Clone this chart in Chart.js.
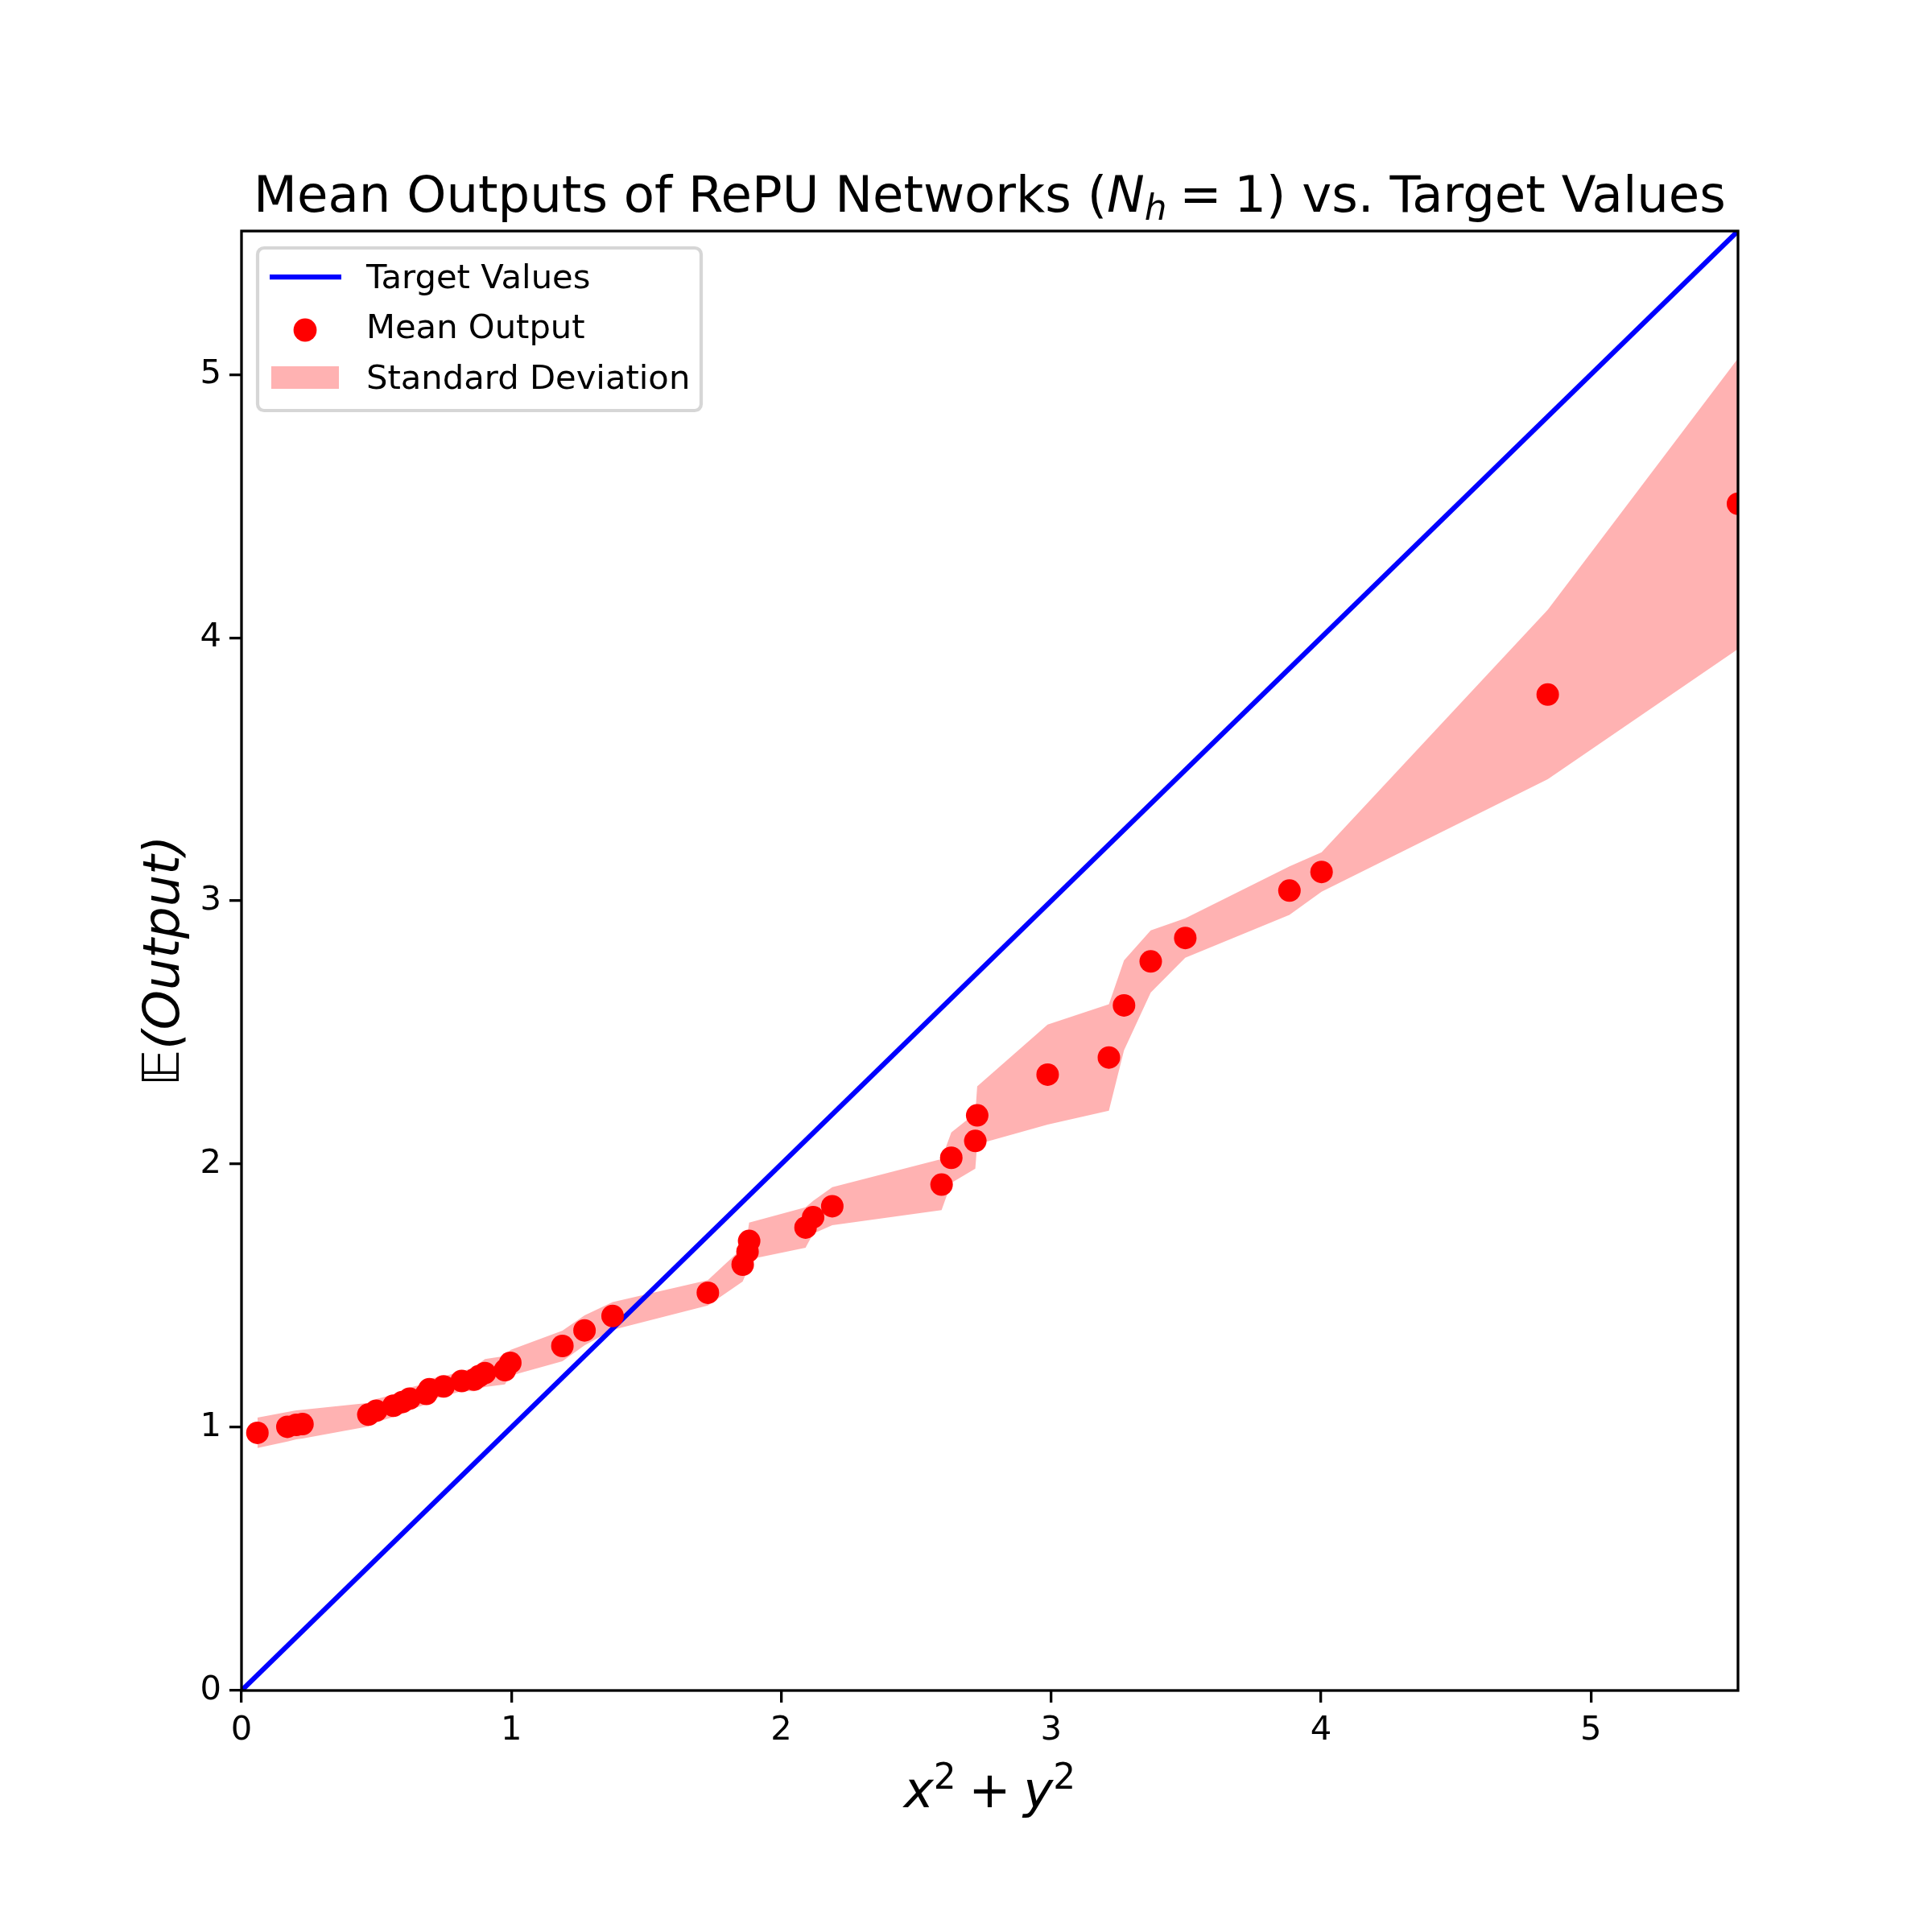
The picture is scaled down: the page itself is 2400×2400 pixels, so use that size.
<!DOCTYPE html>
<html>
<head>
<meta charset="utf-8">
<script src="https://cdn.jsdelivr.net/npm/chart.js@4/dist/chart.umd.min.js"></script>
<style>
  html, body { margin: 0; padding: 0; background: #fff; }
</style>
</head>
<body>
<canvas id="chart" width="2400" height="2400"></canvas>
<script>
// x^2 + y^2 for each sample (sorted)
const xVals = [0.059, 0.170, 0.203, 0.226, 0.470, 0.499, 0.563, 0.596, 0.623, 0.685,
  0.696, 0.749, 0.816, 0.862, 0.880, 0.902, 0.976, 0.996, 1.189, 1.271,
  1.375, 1.728, 1.857, 1.875, 1.881, 2.090, 2.118, 2.189, 2.594, 2.630,
  2.719, 2.726, 2.987, 3.214, 3.270, 3.369, 3.497, 3.883, 4.002, 4.840, 5.545];

// mean network output at each x
const meanOutput = [0.979, 1.002, 1.009, 1.012, 1.048, 1.063, 1.082, 1.096, 1.109, 1.127,
  1.145, 1.155, 1.176, 1.181, 1.194, 1.206, 1.217, 1.245, 1.309, 1.368,
  1.423, 1.511, 1.618, 1.667, 1.708, 1.759, 1.798, 1.840, 1.922, 2.024,
  2.088, 2.185, 2.340, 2.405, 2.603, 2.770, 2.859, 3.039, 3.110, 3.784, 4.509];

// standard deviation at each x
const stdDev = [0.058, 0.056, 0.055, 0.055, 0.045, 0.044, 0.043, 0.043, 0.042, 0.040,
  0.040, 0.038, 0.038, 0.044, 0.048, 0.053, 0.054, 0.049, 0.058, 0.057,
  0.053, 0.048, 0.064, 0.070, 0.070, 0.077, 0.062, 0.072, 0.097, 0.096,
  0.105, 0.110, 0.190, 0.202, 0.171, 0.118, 0.075, 0.092, 0.075, 0.322, 0.552];

// target line y = x
const targetLine = [0, 5.545];

const xTicks = [0, 1, 2, 3, 4, 5];
const yTicks = [0, 1, 2, 3, 4, 5];

const axisMax = Math.max(...xVals);

const FONT = "DejaVu Sans";
const TICK_SIZE = 41.7;
const LABEL_SIZE = 62.5;

Chart.defaults.font.family = FONT;
Chart.defaults.color = "#000";

// Draw a row of text pieces (normal / italic / sub / sup), centred on x
function drawRuns(ctx, runs, x, y) {
  let total = 0;
  runs.forEach(r => {
    ctx.font = `${r.italic ? "italic " : ""}${r.size}px "${FONT}"`;
    r.w = ctx.measureText(r.text).width;
    total += r.w;
  });
  let cx = x - total / 2;
  ctx.textAlign = "left";
  ctx.textBaseline = "alphabetic";
  runs.forEach(r => {
    ctx.font = `${r.italic ? "italic " : ""}${r.size}px "${FONT}"`;
    ctx.fillText(r.text, cx, y + (r.dy || 0));
    cx += r.w;
  });
}

const decorPlugin = {
  id: "decor",
  afterDraw(chart) {
    const ctx = chart.ctx;
    const a = chart.chartArea;
    const cx = (a.left + a.right) / 2;
    ctx.save();
    ctx.fillStyle = "#000";

    // frame
    ctx.strokeStyle = "#000";
    ctx.lineWidth = 3.3;
    ctx.strokeRect(a.left, a.top, a.right - a.left, a.bottom - a.top);

    // title
    const small = LABEL_SIZE * 0.7;
    drawRuns(ctx, [
      { text: "Mean Outputs of RePU Networks (", size: LABEL_SIZE },
      { text: "N", size: LABEL_SIZE, italic: true },
      { text: "h", size: small, italic: true, dy: 10 },
      { text: "\u2005=\u20051", size: LABEL_SIZE },
      { text: ") vs. Target Values", size: LABEL_SIZE }
    ], cx, 263);

    // x label
    drawRuns(ctx, [
      { text: "x", size: LABEL_SIZE, italic: true },
      { text: "2", size: small, dy: -23 },
      { text: "\u2005+\u2005", size: LABEL_SIZE },
      { text: "y", size: LABEL_SIZE, italic: true },
      { text: "2", size: small, dy: -23 }
    ], cx, 2245);

    // y label
    ctx.translate(222, (a.top + a.bottom) / 2);
    ctx.rotate(-Math.PI / 2);
    ctx.font = `italic ${LABEL_SIZE}px "${FONT}"`;
    ctx.textAlign = "center";
    ctx.textBaseline = "alphabetic";
    ctx.fillText("\u{1D53C}(Output)", 0, 0);
    ctx.restore();

    // legend
    ctx.save();
    const lx = 320, ly = 308, lw = 551, lh = 202;
    ctx.beginPath();
    ctx.roundRect(lx, ly, lw, lh, 8);
    ctx.fillStyle = "rgba(255,255,255,0.8)";
    ctx.fill();
    ctx.strokeStyle = "rgba(204,204,204,0.8)";
    ctx.lineWidth = 4.2;
    ctx.stroke();

    ctx.strokeStyle = "#0000ff";
    ctx.lineWidth = 6.25;
    ctx.beginPath();
    ctx.moveTo(335, 344);
    ctx.lineTo(424, 344);
    ctx.stroke();

    ctx.fillStyle = "#ff0000";
    ctx.beginPath();
    ctx.arc(379, 410, 14.4, 0, Math.PI * 2);
    ctx.fill();

    ctx.fillStyle = "rgba(255,0,0,0.3)";
    ctx.fillRect(337, 455, 84, 28);

    ctx.fillStyle = "#000";
    ctx.font = `${TICK_SIZE}px "${FONT}"`;
    ctx.textAlign = "left";
    ctx.textBaseline = "alphabetic";
    ctx.fillText("Target Values", 455, 358);
    ctx.fillText("Mean Output", 455, 420);
    ctx.fillText("Standard Deviation", 455, 483);
    ctx.restore();
  }
};

const axisCommon = {
  type: "linear",
  min: 0,
  max: axisMax,
  grid: {
    display: true,
    drawOnChartArea: false,
    drawTicks: true,
    tickLength: 15,
    lineWidth: 3.3,
    color: "#000"
  },
  border: { display: false },
  ticks: {
    font: { size: TICK_SIZE, family: FONT },
    color: "#000",
    padding: 10,
    autoSkip: false,
    maxRotation: 0
  }
};

new Chart(document.getElementById("chart"), {
  data: {
    datasets: [
      {
        type: "scatter",
        label: "Mean Output",
        data: xVals.map((x, i) => ({ x: x, y: meanOutput[i] })),
        backgroundColor: "#ff0000",
        borderWidth: 0,
        pointRadius: 14,
        clip: 0,
        order: 0
      },
      {
        type: "line",
        label: "Target Values",
        data: targetLine.map(v => ({ x: v, y: v })),
        borderColor: "#0000ff",
        borderWidth: 6.25,
        pointRadius: 0,
        fill: false,
        clip: 0,
        order: 1
      },
      {
        type: "line",
        label: "Standard Deviation",
        data: xVals.map((x, i) => ({ x: x, y: meanOutput[i] + stdDev[i] })),
        borderColor: "rgba(0,0,0,0)",
        borderWidth: 0,
        pointRadius: 0,
        backgroundColor: "rgba(255,0,0,0.3)",
        fill: "+1",
        clip: 0,
        order: 2
      },
      {
        type: "line",
        label: "lower",
        data: xVals.map((x, i) => ({ x: x, y: meanOutput[i] - stdDev[i] })),
        borderColor: "rgba(0,0,0,0)",
        borderWidth: 0,
        pointRadius: 0,
        fill: false,
        clip: 0,
        order: 3
      }
    ]
  },
  options: {
    responsive: false,
    animation: false,
    devicePixelRatio: 1,
    layout: { padding: { left: 0, right: 241, top: 287, bottom: 0 } },
    plugins: {
      legend: { display: false },
      title: { display: false },
      tooltip: { enabled: false }
    },
    scales: {
      x: {
        ...axisCommon,
        afterBuildTicks: s => { s.ticks = xTicks.map(v => ({ value: v })); },
        afterFit: s => { s.height = 300; }
      },
      y: {
        ...axisCommon,
        afterBuildTicks: s => { s.ticks = yTicks.map(v => ({ value: v })); },
        afterFit: s => { s.width = 300; }
      }
    }
  },
  plugins: [decorPlugin]
});
</script>
</body>
</html>
